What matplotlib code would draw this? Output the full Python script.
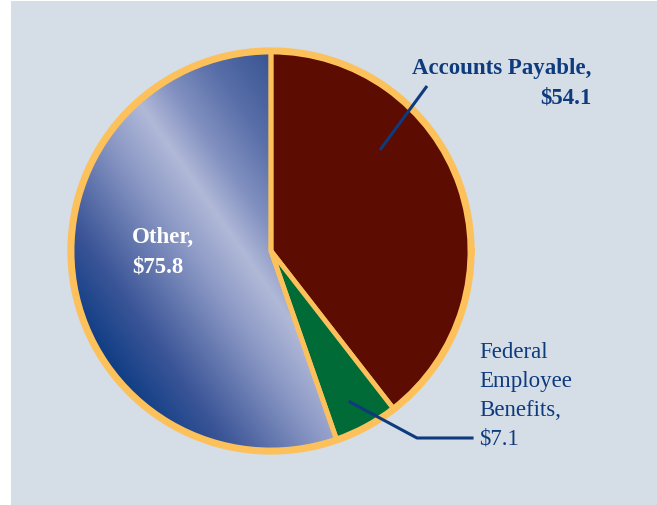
import numpy as np
import matplotlib
matplotlib.use("Agg")
import matplotlib.pyplot as plt
from matplotlib.patches import Rectangle
from matplotlib.colors import LinearSegmentedColormap

# Liability categories (billions of dollars)
categories = ["Accounts Payable", "Federal Employee Benefits", "Other"]
values = [54.1, 7.1, 75.8]
label_texts = ["Accounts Payable,\n$54.1", "Federal\nEmployee\nBenefits,\n$7.1", "Other,\n$75.8"]

BG = "#d5dde6"
EDGE = "#fdc15c"
NAVY = "#0e3a7e"
MAROON = "#5c0c00"
GREEN = "#006b37"

W, H = 657, 506
fig = plt.figure(figsize=(W / 100, H / 100), dpi=100)
fig.patch.set_facecolor("white")
ax = fig.add_axes([0, 0, 1, 1])
ax.set_xlim(0, W)
ax.set_ylim(0, H)
ax.set_aspect("equal")
ax.axis("off")

ax.add_patch(Rectangle((11, 0), W - 11, H - 2, facecolor=BG, edgecolor="none", zorder=0))

cx, cy, r = 271, 254, 199
wedges, _ = ax.pie(values, startangle=90, counterclock=False,
                   colors=[MAROON, GREEN, "none"], center=(cx, cy), radius=r,
                   wedgeprops=dict(edgecolor=EDGE, linewidth=3.5), frame=True)
for w in wedges:
    w.set_zorder(2)
ax.set_xlim(0, W)
ax.set_ylim(0, H)
ax.axis("off")

# Shaded fill for the "Other" wedge: linear gradient across a diagonal light band
cmap = LinearSegmentedColormap.from_list("other", [
    (0.00, "#0a3a82"),
    (0.18, "#3c5698"),
    (0.42, "#8d9ac6"),
    (0.55, "#b1b9d8"),
    (0.66, "#8190c0"),
    (0.80, "#586ea8"),
    (1.00, "#2f4f8e"),
])
xs = np.linspace(cx - r, cx + r, 400)
ys = np.linspace(cy - r, cy + r, 400)
X, Y = np.meshgrid(xs, ys)
ux, uy = 0.82, 0.57
T = (X - cx) * ux + (Y - cy) * uy
T = (T + 205) / 330.0
img = ax.imshow(np.clip(T, 0, 1), cmap=cmap, origin="lower", extent=(cx - r, cx + r, cy - r, cy + r),
                interpolation="bilinear", zorder=1, vmin=0, vmax=1)
img.set_clip_path(wedges[2])
ax.set_xlim(0, W)
ax.set_ylim(0, H)

# Outer rim
theta = np.linspace(0, 2 * np.pi, 600)
ax.plot(cx + (r + 1.5) * np.cos(theta), cy + (r + 1.5) * np.sin(theta), color=EDGE, lw=4.5, zorder=3)

serif = ["Liberation Serif", "DejaVu Serif"]
FS = 16.5

# Labels
ap_lines = label_texts[0].split("\n")
for i, line in enumerate(ap_lines):
    ax.text(591, H - (74 + 29 * i), line, ha="right", va="baseline", fontsize=FS, fontweight="bold",
            color=NAVY, family=serif, zorder=5)
other_lines = label_texts[2].split("\n")
for i, line in enumerate(other_lines):
    ax.text(132, H - (243 + 30 * i), line, ha="left", va="baseline", fontsize=FS,
            fontweight="bold", color="white", family=serif, zorder=5)
fed_lines = label_texts[1].split("\n")
for i, line in enumerate(fed_lines):
    ax.text(479, H - (358 + 29 * i), line, ha="left", va="baseline", fontsize=FS,
            color=NAVY, family=serif, zorder=5)

# Leader lines
ax.plot([380, 427], [H - 151, H - 87], color=NAVY, lw=2.2, zorder=4, solid_capstyle="butt")
ax.plot([350, 417, 472], [H - 403, H - 439, H - 439], color=NAVY, lw=2.2, zorder=4)

fig.savefig("out.png", dpi=100, facecolor=fig.get_facecolor())
